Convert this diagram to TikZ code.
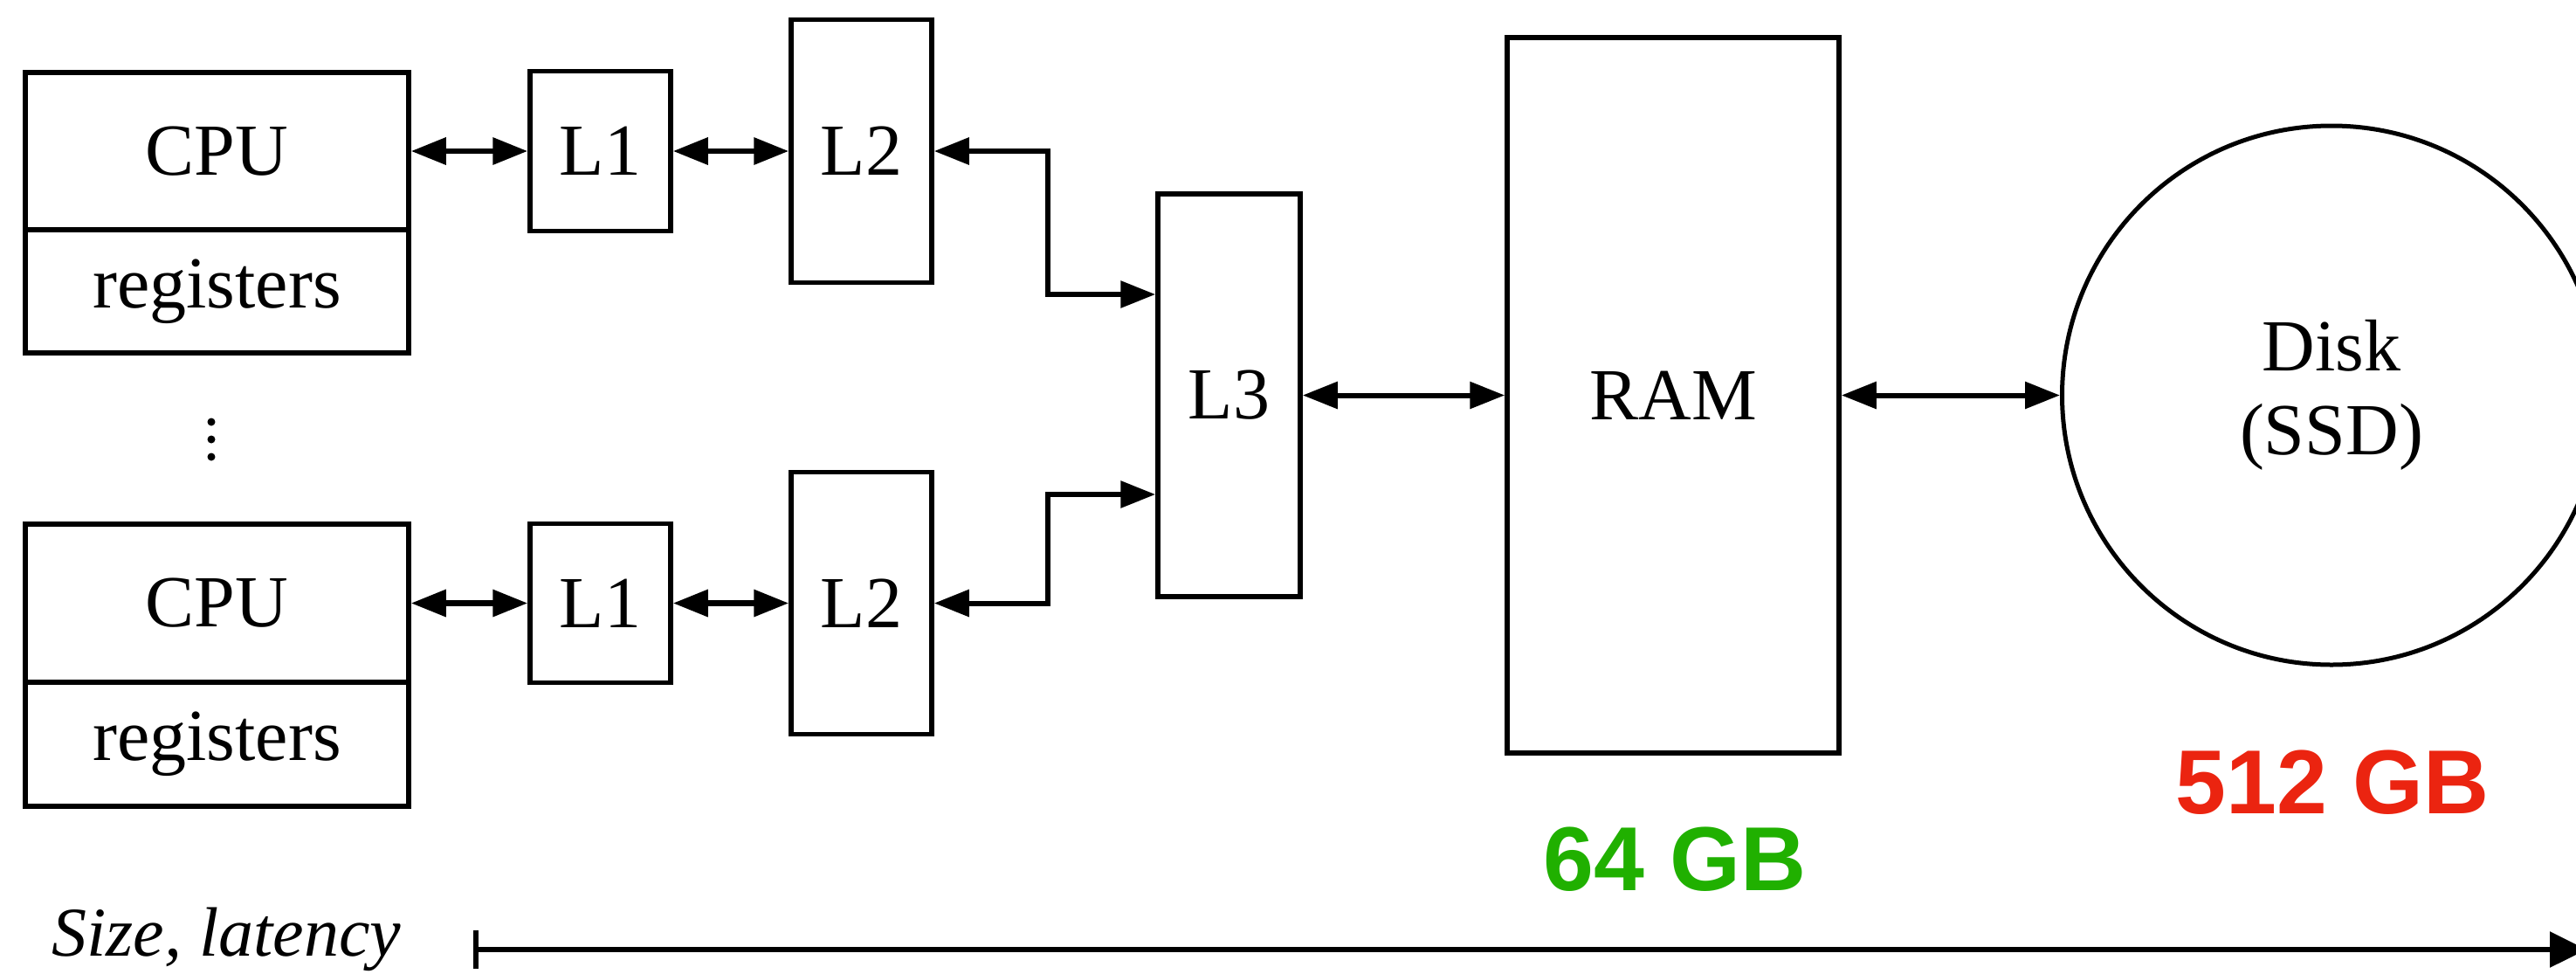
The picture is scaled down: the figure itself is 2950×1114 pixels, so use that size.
\documentclass[tikz,border=0pt]{standalone}
\usepackage{fontspec}
\setmainfont{Liberation Serif}
\newfontfamily\gbfont{Liberation Sans}
\usetikzlibrary{arrows.meta,calc}
\definecolor{gbgreen}{RGB}{32,176,0}
\definecolor{gbred}{RGB}{235,36,16}
\tikzset{
  box/.style={draw, line width=5.5pt, inner sep=0pt, font=\fontsize{84}{96}\selectfont},
  link/.style={{Triangle[length=40pt,width=30pt]}-{Triangle[length=40pt,width=30pt]}, line width=6.5pt},
  gb/.style={font=\gbfont\bfseries\fontsize{104}{110}\selectfont},
}
\begin{document}
\begin{tikzpicture}[x=1pt,y=-1pt]
\useasboundingbox (0,0) rectangle (2950,1114);
% top CPU
\node[box, minimum width=439pt, minimum height=180pt] (cpu1) at (248.5,173) {CPU};
\node[box, minimum width=439pt, minimum height=141pt] (reg1) at (248.5,333.5) {registers};
\node[box, minimum width=161pt, minimum height=183pt] (l1a) at (687.5,173) {L1};
\node[box, minimum width=161pt, minimum height=301pt] (l2a) at (986.5,173) {L2};
% bottom CPU
\node[box, minimum width=439pt, minimum height=181pt] (cpu2) at (248.5,690.5) {CPU};
\node[box, minimum width=439pt, minimum height=142pt] (reg2) at (248.5,852) {registers};
\node[box, minimum width=161pt, minimum height=182pt] (l1b) at (687.5,690.5) {L1};
\node[box, minimum width=161pt, minimum height=300pt] (l2b) at (986.5,690.5) {L2};
% dots
\fill (242,483) circle (4.5pt) (242,503) circle (4.5pt) (242,523) circle (4.5pt);
% L3, RAM, Disk
\node[box, minimum width=163pt, minimum height=461pt] (l3) at (1407.5,452.5) {L3};
\node[box, minimum width=380pt, minimum height=819pt] (ram) at (1916,452.5) {RAM};
\node[box, circle, line width=5pt, minimum size=617pt, align=center] (disk) at (2670,452.5) {Disk\\(SSD)};
% connectors
\draw[link] (cpu1.east) -- (l1a.west |- cpu1.east);
\draw[link] (l1a.east |- cpu1.east) -- (l2a.west |- cpu1.east);
\draw[link] (cpu2.east) -- (l1b.west |- cpu2.east);
\draw[link] (l1b.east |- cpu2.east) -- (l2b.west |- cpu2.east);
\draw[link, line width=6pt] (l2a.east) -- ++(130,0) |- ($(l3.west)+(0,-115.5)$);
\draw[link, line width=6pt] (l2b.east) -- ++(130,0) |- ($(l3.west)+(0,113.5)$);
\draw[link, line width=6pt] (l3.east) -- (ram.west);
\draw[link, line width=6pt] (ram.east) -- (disk.west);
% sizes
\node[gb, text=gbgreen] (g64) at (1918,984) {64 GB};
\node[gb, text=gbred] (g512) at (2671,896) {512 GB};
% axis
\node[anchor=base, font=\itshape\fontsize{80}{92}\selectfont] (axlabel) at (259.5,1094) {Size, latency};
\coordinate (axstart) at (542,1087);
\coordinate (axend) at (2962,1087);
\draw[{Bar[width=44pt]}-{Triangle[length=42pt,width=40pt]}, line width=6pt] (axstart) -- (axend);
\end{tikzpicture}
\end{document}
